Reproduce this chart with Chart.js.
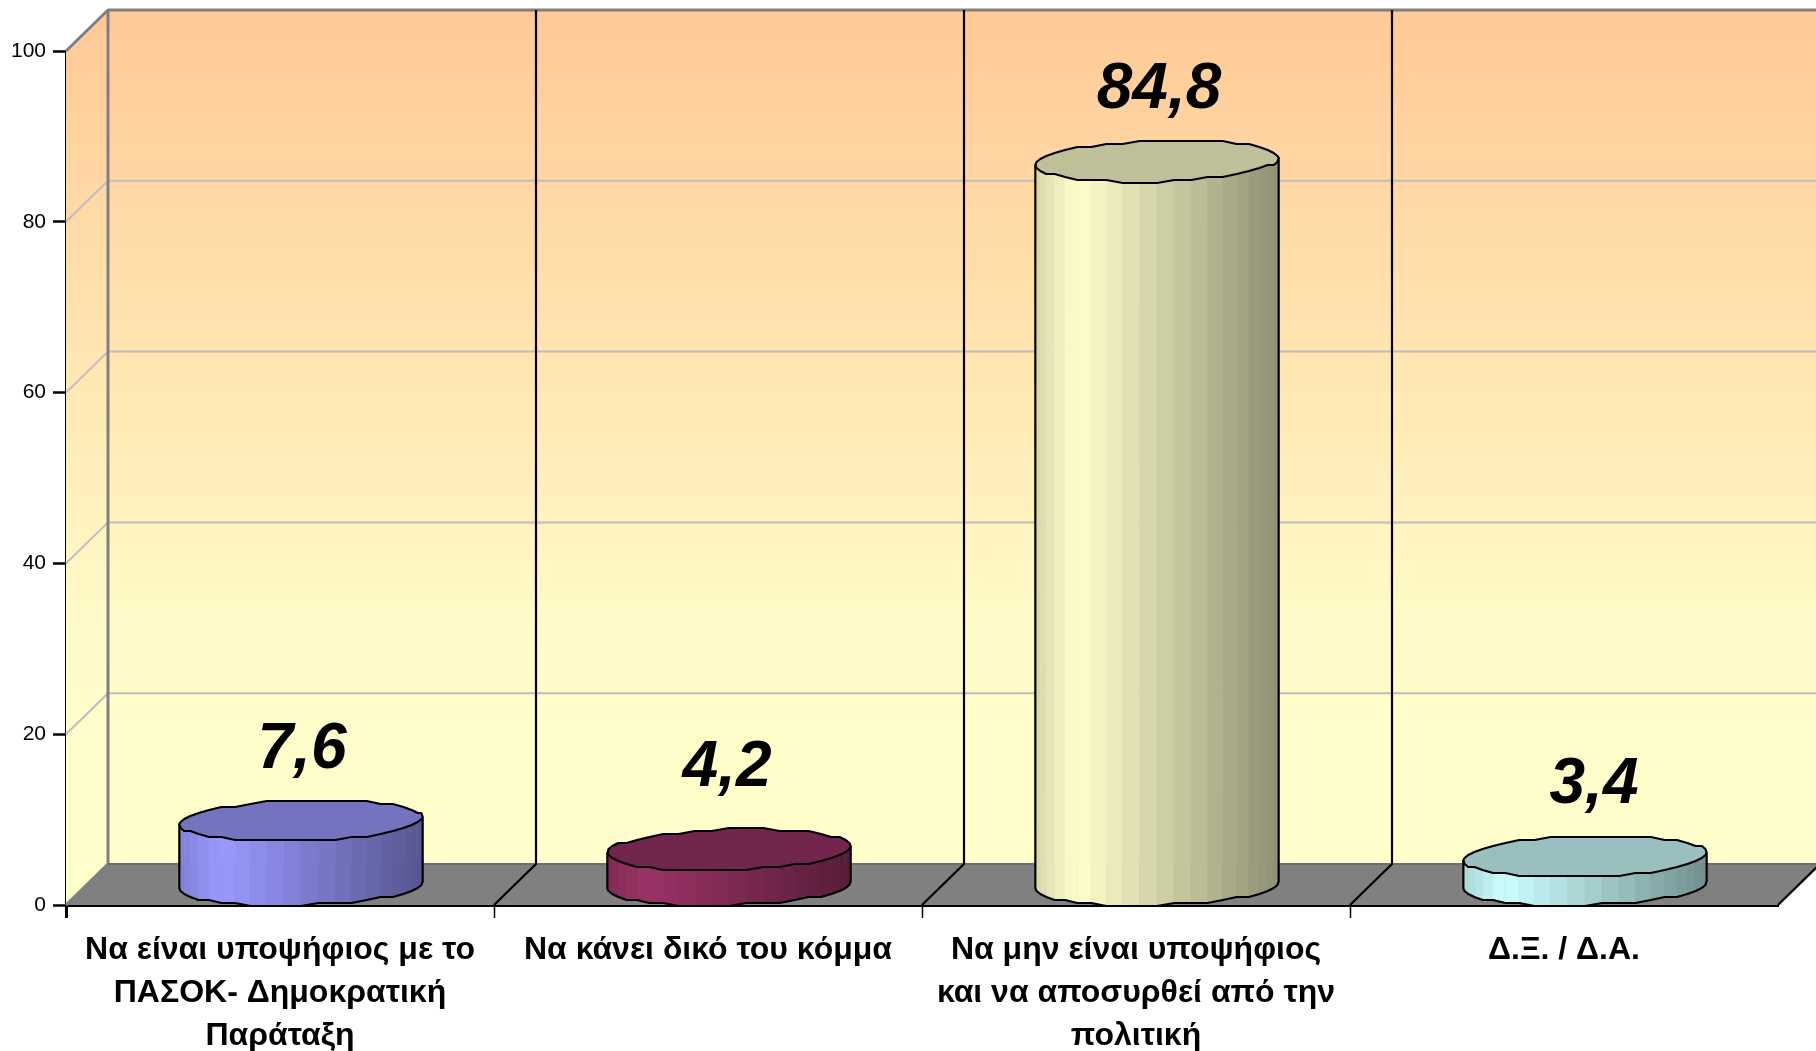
<!DOCTYPE html>
<html>
<head>
<meta charset="utf-8">
<title>Chart</title>
<script src="https://cdn.jsdelivr.net/npm/chart.js@4"></script>
<style>
    html, body { margin: 0; padding: 0; background: #fff; overflow: hidden; }
    canvas { display: block; }
</style>
</head>
<body>
<canvas id="chart" width="1816" height="1051"></canvas>
<script>
// Data
const categories = [
    ['Να είναι υποψήφιος με το', 'ΠΑΣΟΚ- Δημοκρατική', 'Παράταξη'],
    'Να κάνει δικό του κόμμα',
    ['Να μην είναι υποψήφιος', 'και να αποσυρθεί από την', 'πολιτική'],
    'Δ.Ξ. / Δ.Α.'
];
const values = [7.6, 4.2, 84.8, 3.4];
const barColors = [[153, 153, 255], [153, 51, 102], [255, 255, 204], [204, 255, 255]];
const yTicks = [0, 20, 40, 60, 80, 100];

// Look of the fake 3D box
const DEPTH_X = 42;
const DEPTH_Y = 41;
const CANVAS_W = 1816;
const FACETS = 22;
const SNAP = 3;
const LABEL_NUDGE = [[-1, 0], [-4, -11], [0, 0], [7, 0]];

function mix(rgb, k) {
    return `rgb(${rgb.map(c => Math.round(c * k)).join(',')})`;
}

// Brightness across the side of the cylinder, u = 0 left edge, u = 1 right edge
function shade(u) {
    if (u < 0.17) return 0.84 + (u / 0.17) * 0.16;
    return 1 - ((u - 0.17) / 0.83) * 0.44;
}

// Back wall, left wall, floor and grid lines
const boxPlugin = {
    id: 'box',
    beforeDatasetsDraw(chart) {
        const { ctx, scales: { x: xs, y: ys } } = chart;
        const left = xs.left;
        const right = xs.right;
        const bottom = ys.getPixelForValue(0);
        const top = ys.getPixelForValue(100);
        const catW = xs.width / categories.length;

        ctx.save();
        ctx.lineJoin = 'round';

        // walls
        const wall = ctx.createLinearGradient(0, top - DEPTH_Y, 0, bottom - DEPTH_Y);
        wall.addColorStop(0, '#FFC996');
        wall.addColorStop(0.72, '#FFFBC8');
        wall.addColorStop(1, '#FFFFCC');
        ctx.fillStyle = wall;
        ctx.fillRect(left + DEPTH_X, top - DEPTH_Y, CANVAS_W - left - DEPTH_X, bottom - top);
        ctx.beginPath();
        ctx.moveTo(left, top);
        ctx.lineTo(left + DEPTH_X, top - DEPTH_Y);
        ctx.lineTo(left + DEPTH_X, bottom - DEPTH_Y);
        ctx.lineTo(left, bottom);
        ctx.closePath();
        ctx.fill();

        // floor
        ctx.fillStyle = '#808080';
        ctx.beginPath();
        ctx.moveTo(left, bottom);
        ctx.lineTo(left + DEPTH_X, bottom - DEPTH_Y);
        ctx.lineTo(right + DEPTH_X, bottom - DEPTH_Y);
        ctx.lineTo(right, bottom);
        ctx.closePath();
        ctx.fill();

        // horizontal grid lines
        ctx.strokeStyle = '#BEBEBE';
        ctx.lineWidth = 2;
        yTicks.slice(1, -1).forEach(v => {
            const py = ys.getPixelForValue(v);
            ctx.beginPath();
            ctx.moveTo(left, py);
            ctx.lineTo(left + DEPTH_X, py - DEPTH_Y);
            ctx.lineTo(CANVAS_W, py - DEPTH_Y);
            ctx.stroke();
        });

        // wall edges
        ctx.strokeStyle = '#808080';
        ctx.lineWidth = 3;
        ctx.beginPath();
        ctx.moveTo(left, top);
        ctx.lineTo(left + DEPTH_X, top - DEPTH_Y);
        ctx.lineTo(CANVAS_W, top - DEPTH_Y);
        ctx.moveTo(left + DEPTH_X, top - DEPTH_Y);
        ctx.lineTo(left + DEPTH_X, bottom - DEPTH_Y);
        ctx.lineTo(left, bottom);
        ctx.stroke();
        ctx.strokeStyle = '#6E6E6E';
        ctx.lineWidth = 2;
        ctx.beginPath();
        ctx.moveTo(left + DEPTH_X, bottom - DEPTH_Y);
        ctx.lineTo(CANVAS_W, bottom - DEPTH_Y);
        ctx.stroke();

        // category dividers
        ctx.strokeStyle = '#000';
        ctx.lineWidth = 2.2;
        for (let i = 1; i < categories.length; i++) {
            const px = left + catW * i;
            ctx.beginPath();
            ctx.moveTo(px + DEPTH_X, top - DEPTH_Y);
            ctx.lineTo(px + DEPTH_X, bottom - DEPTH_Y);
            ctx.lineTo(px, bottom);
            ctx.stroke();
        }
        // floor right edge
        ctx.beginPath();
        ctx.moveTo(right, bottom);
        ctx.lineTo(right + DEPTH_X, bottom - DEPTH_Y);
        ctx.stroke();
        ctx.restore();
    }
};

// Faceted cylinders on top of the (invisible) bar elements, plus value labels
const cylinderPlugin = {
    id: 'cylinders',
    afterDatasetsDraw(chart) {
        const { ctx } = chart;
        const meta = chart.getDatasetMeta(0);

        meta.data.forEach((bar, idx) => {
            const rgb = barColors[idx];
            const cx = bar.x + DEPTH_X / 2;
            const topY = bar.y - DEPTH_Y / 2 + 1;
            const baseY = bar.base - DEPTH_Y / 2 + 1;
            const a = bar.width / 2;
            const b = DEPTH_X / 2;
            const c = DEPTH_Y / 2;
            const r = Math.hypot(a, b);
            const phi = Math.atan2(b, a);

            // ring of points, starts at left edge and runs along the front first
            const ring = (cy) => {
                const pts = [];
                for (let i = 0; i < FACETS * 2; i++) {
                    const t = phi + Math.PI + i * Math.PI / FACETS;
                    const y = cy - c * Math.sin(t);
                    pts.push({
                        x: cx + a * Math.cos(t) + b * Math.sin(t),
                        y: (i === 0 || i === FACETS) ? y : Math.round(y / SNAP) * SNAP
                    });
                }
                return pts;
            };
            const up = ring(topY);
            const down = ring(baseY);

            ctx.save();
            ctx.lineJoin = 'round';

            // side bands
            for (let i = 0; i < FACETS; i++) {
                const u = ((up[i].x + up[i + 1].x) / 2 - (cx - r)) / (2 * r);
                ctx.fillStyle = mix(rgb, shade(u));
                ctx.strokeStyle = ctx.fillStyle;
                ctx.lineWidth = 0.6;
                ctx.beginPath();
                ctx.moveTo(up[i].x, up[i].y);
                ctx.lineTo(up[i + 1].x, up[i + 1].y);
                ctx.lineTo(down[i + 1].x, down[i + 1].y);
                ctx.lineTo(down[i].x, down[i].y);
                ctx.closePath();
                ctx.fill();
                ctx.stroke();
            }

            // side outline
            ctx.strokeStyle = '#000';
            ctx.lineWidth = 2.2;
            ctx.beginPath();
            ctx.moveTo(up[0].x, up[0].y);
            for (let i = 0; i <= FACETS; i++) ctx.lineTo(down[i].x, down[i].y);
            ctx.lineTo(up[FACETS].x, up[FACETS].y);
            ctx.stroke();

            // top cap
            ctx.fillStyle = mix(rgb, 0.75);
            ctx.beginPath();
            up.forEach((p, i) => i ? ctx.lineTo(p.x, p.y) : ctx.moveTo(p.x, p.y));
            ctx.closePath();
            ctx.fill();
            ctx.stroke();

            // value label
            const nudge = LABEL_NUDGE[idx];
            ctx.fillStyle = '#000';
            ctx.font = 'italic bold 64px "Liberation Sans"';
            ctx.textAlign = 'center';
            ctx.textBaseline = 'alphabetic';
            ctx.fillText(String(values[idx]).replace('.', ','), cx + 2 + nudge[0], topY - 53 + nudge[1]);
            ctx.restore();
        });
    }
};

const chart = new Chart(document.getElementById('chart').getContext('2d'), {
    type: 'bar',
    data: {
        labels: categories,
        datasets: [{
            data: values,
            backgroundColor: 'transparent',
            borderWidth: 0,
            barPercentage: 0.56,
            categoryPercentage: 1
        }]
    },
    options: {
        responsive: false,
        animation: false,
        events: [],
        layout: { padding: { top: 51, right: 38, left: 0, bottom: 0 } },
        plugins: {
            legend: { display: false },
            tooltip: { enabled: false }
        },
        scales: {
            x: {
                afterFit: (scale) => { scale.height = 146; },
                border: { color: '#000', width: 3 },
                grid: {
                    drawOnChartArea: false,
                    tickLength: 13,
                    tickWidth: (ctx) => ctx.index === 0 ? 3 : 1.5,
                    tickColor: (ctx) => ctx.tick ? '#000' : 'transparent'
                },
                ticks: {
                    color: '#000',
                    padding: 11,
                    autoSkip: false,
                    maxRotation: 0,
                    font: { family: '"Liberation Sans"', size: 32, weight: 'bold', lineHeight: 1.34 }
                }
            },
            y: {
                min: 0,
                max: 100,
                afterFit: (scale) => { scale.width = 66; },
                afterBuildTicks: (scale) => { scale.ticks = yTicks.map(value => ({ value })); },
                border: { color: '#000', width: 3 },
                grid: {
                    drawOnChartArea: false,
                    tickLength: 13,
                    tickWidth: 2.5,
                    tickColor: '#000'
                },
                ticks: {
                    color: '#000',
                    padding: 7,
                    font: { family: '"Liberation Sans"', size: 21 }
                }
            }
        }
    },
    plugins: [boxPlugin, cylinderPlugin]
});
</script>
</body>
</html>
